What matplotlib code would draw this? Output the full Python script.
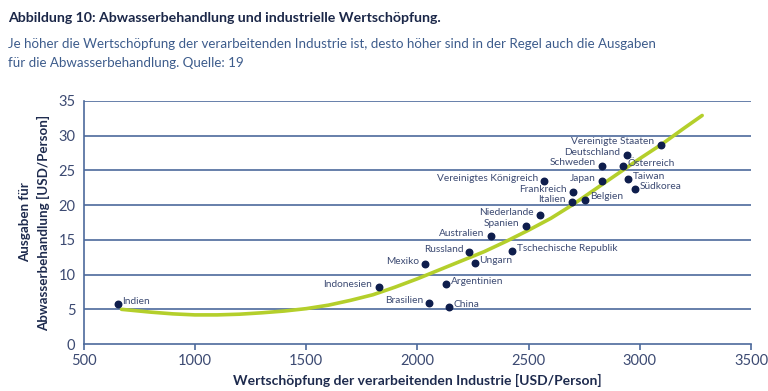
import matplotlib.pyplot as plt

# Laender, Wertschoepfung (x) und Ausgaben (y)
laender = ['Indien', 'Indonesien', 'Mexiko', 'Russland', 'Ungarn', 'Tschechische Republik',
           'Argentinien', 'Brasilien', 'China', 'Australien', 'Spanien', 'Niederlande',
           'Italien', 'Belgien', 'Frankreich', 'Vereinigtes Königreich', 'Japan', 'Schweden',
           'Österreich', 'Deutschland', 'Taiwan', 'Südkorea', 'Vereinigte Staaten']
wertschoepfung = [653, 1826, 2036, 2234, 2257, 2427,
                  2128, 2054, 2140, 2330, 2486, 2553,
                  2694, 2753, 2699, 2570, 2829, 2830,
                  2922, 2940, 2947, 2979, 3094]
ausgaben = [5.8, 8.2, 11.5, 13.2, 11.7, 13.4,
            8.6, 5.9, 5.3, 15.5, 17.0, 18.6,
            20.4, 20.8, 21.9, 23.5, 23.5, 25.7,
            25.6, 27.2, 23.7, 22.3, 28.7]
# Seite des Labels: 'l' links, 'r' rechts
seite = ['r', 'l', 'l', 'l', 'r', 'r',
         'r', 'l', 'r', 'l', 'l', 'l',
         'l', 'r', 'l', 'l', 'l', 'l',
         'r', 'l', 'r', 'r', 'l']

# Trendkurve
kurve_x = [670, 800, 900, 1000, 1100, 1200, 1300, 1400, 1500, 1600, 1700, 1800, 1900, 2000,
           2100, 2200, 2300, 2400, 2500, 2600, 2700, 2800, 2900, 3000, 3100, 3200, 3280]
kurve_y = [5.0, 4.6, 4.35, 4.2, 4.2, 4.3, 4.5, 4.75, 5.1, 5.6, 6.3, 7.1, 8.2, 9.4,
           10.7, 12.0, 13.3, 14.8, 16.4, 18.1, 20.1, 22.3, 24.5, 26.7, 28.8, 31.1, 32.9]

navy = '#0e1d4c'
txt = '#3c4a72'
grid = '#4d6a9c'

plt.rcParams['font.family'] = ['Lato', 'DejaVu Sans']

fig = plt.figure(figsize=(7.68, 3.91), dpi=100)
ax = fig.add_axes([0.109, 0.12, 0.869, 0.622])

for y in range(5, 40, 5):
    ax.axhline(y, color=grid, lw=1.2, zorder=1)

ax.plot(kurve_x, kurve_y, color='#b4cf2b', lw=2.6, solid_capstyle='round', zorder=2)
ax.scatter(wertschoepfung, ausgaben, s=22, color=navy, zorder=3)

for name, x, y, s in zip(laender, wertschoepfung, ausgaben, seite):
    if s == 'r':
        ax.annotate(name, (x, y), xytext=(3.5, 2), textcoords='offset points',
                    ha='left', va='center', fontsize=7.3, color=txt)
    else:
        ax.annotate(name, (x, y), xytext=(-4.5, 2), textcoords='offset points',
                    ha='right', va='center', fontsize=7.3, color=txt)

ax.set_xlim(500, 3500)
ax.set_ylim(0, 35)
ax.set_xticks(range(500, 3501, 500))
ax.set_yticks(range(0, 36, 5))
for s in ['top', 'right']:
    ax.spines[s].set_visible(False)
for s in ['left', 'bottom']:
    ax.spines[s].set_color(grid)
    ax.spines[s].set_linewidth(1.2)
ax.tick_params(colors=grid, labelcolor=txt, labelsize=10.5, length=4, width=1.2)
ax.tick_params(axis='y', length=0, pad=6)

ax.set_xlabel('Wertschöpfung der verarbeitenden Industrie [USD/Person]',
              fontsize=10, fontweight='bold', color='#1e2b4e', labelpad=4)
ax.set_ylabel('Ausgaben für\nAbwasserbehandlung [USD/Person]',
              fontsize=9.6, fontweight='bold', color='#1e2b4e', labelpad=6, linespacing=1.5)

fig.text(0.01, 0.955, 'Abbildung 10: Abwasserbehandlung und industrielle Wertschöpfung.',
         fontsize=10.2, fontweight='bold', color='#1b2748', va='center')
fig.text(0.01, 0.888, 'Je höher die Wertschöpfung der verarbeitenden Industrie ist, desto höher sind in der Regel auch die Ausgaben',
         fontsize=9.6, color='#3d5c8c', va='center')
fig.text(0.01, 0.84, 'für die Abwasserbehandlung. Quelle: 19',
         fontsize=9.6, color='#3d5c8c', va='center')

fig.savefig('out.png', dpi=100)
